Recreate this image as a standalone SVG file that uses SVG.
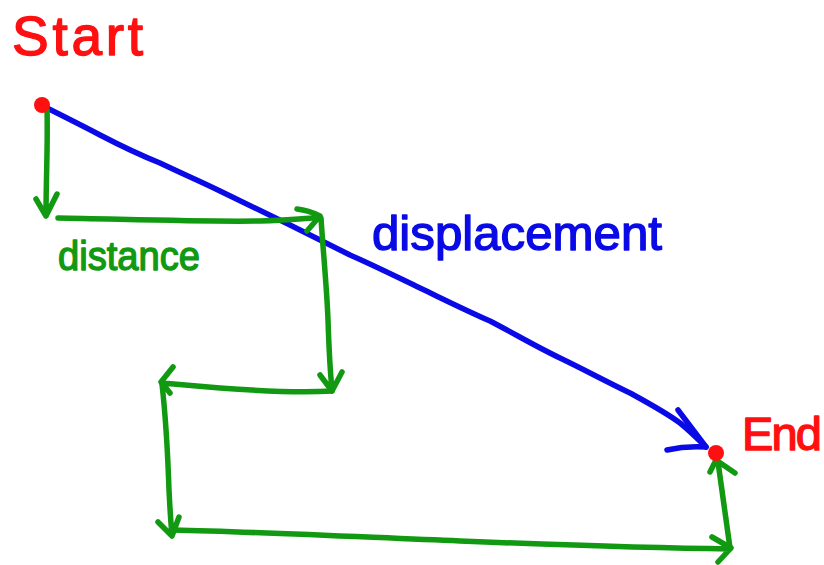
<svg xmlns="http://www.w3.org/2000/svg" width="824" height="565" viewBox="0 0 824 565">
<style>
.g{fill:none;stroke:#119911;stroke-width:5.5;stroke-linecap:round;stroke-linejoin:round}
.b{fill:none;stroke:#0a0ae6;stroke-width:5.5;stroke-linecap:round;stroke-linejoin:round}
.t{font-family:"Liberation Sans","DejaVu Sans",sans-serif;stroke-width:1.4;stroke-linejoin:round}
.red{fill:#ff1010;stroke:#ff1010}
.blue{fill:#0a0ae6;stroke:#0a0ae6}
.green{fill:#119911;stroke:#119911}
</style>
<rect width="824" height="565" fill="#ffffff"/>
<g id="connectors">
<path id="displacement-line" class="b" d="M45,107 C65,117 85,127 100,135 C125,148 140,155 160,163 C185,175 200,181 220,191 C245,203 265,213 290,225 C310,235 330,245 350,255 C375,266 395,276 420,288 C445,300 465,310 490,321 C515,334 535,346 560,358 C585,370 605,381 630,393 C650,404 665,412 680,423 C690,431 698,439 706,447"/>
<path class="b" d="M678,410 L706,447 M667,450 C680,447 692,446 706,447"/>
<path id="d1" class="g" d="M47,110 C48,140 46,180 46,215 M36,199 L46,216 L57,194"/>
<path id="d2" class="g" d="M58,218 C120,219 200,222 260,221 C290,220 305,219 320,217 M297,209 C306,210 314,213 320,216 L307,231"/>
<path id="d3" class="g" d="M321,218 C323,250 327,290 328,320 C329,350 330,370 332,390 M320,375 L332,391 L342,372"/>
<path id="d4" class="g" d="M332,391 C300,393 260,391 220,388 C195,386 175,384 162,383 M173,367 L161,382 L170,393"/>
<path id="d5" class="g" d="M162,384 C166,420 168,460 169,490 C170,510 171,525 172,535 M158,522 L172,536 L179,517"/>
<path id="d6" class="g" d="M173,530 C260,532 360,537 460,541 C560,545 640,548 730,549 M712,537 L731,548 L718,562"/>
<path id="d7" class="g" d="M730,548 C726,520 722,490 718,462 M710,472 L716,460 L735,473"/>
</g>
<g id="start">
<circle cx="42" cy="105" r="8" fill="#ff1010"/>
<text class="t red" x="12" y="55" font-size="55" textLength="131" lengthAdjust="spacing">Start</text>
</g>
<g id="end">
<circle cx="716" cy="453" r="8" fill="#ff1010"/>
<text class="t red" x="742" y="450" font-size="47" textLength="80" lengthAdjust="spacing">End</text>
</g>
<g id="label-displacement">
<text class="t blue" x="372" y="250" font-size="48" textLength="290" lengthAdjust="spacingAndGlyphs">displacement</text>
</g>
<g id="label-distance">
<text class="t green" x="58" y="270" font-size="40" textLength="142" lengthAdjust="spacingAndGlyphs">distance</text>
</g>
</svg>
